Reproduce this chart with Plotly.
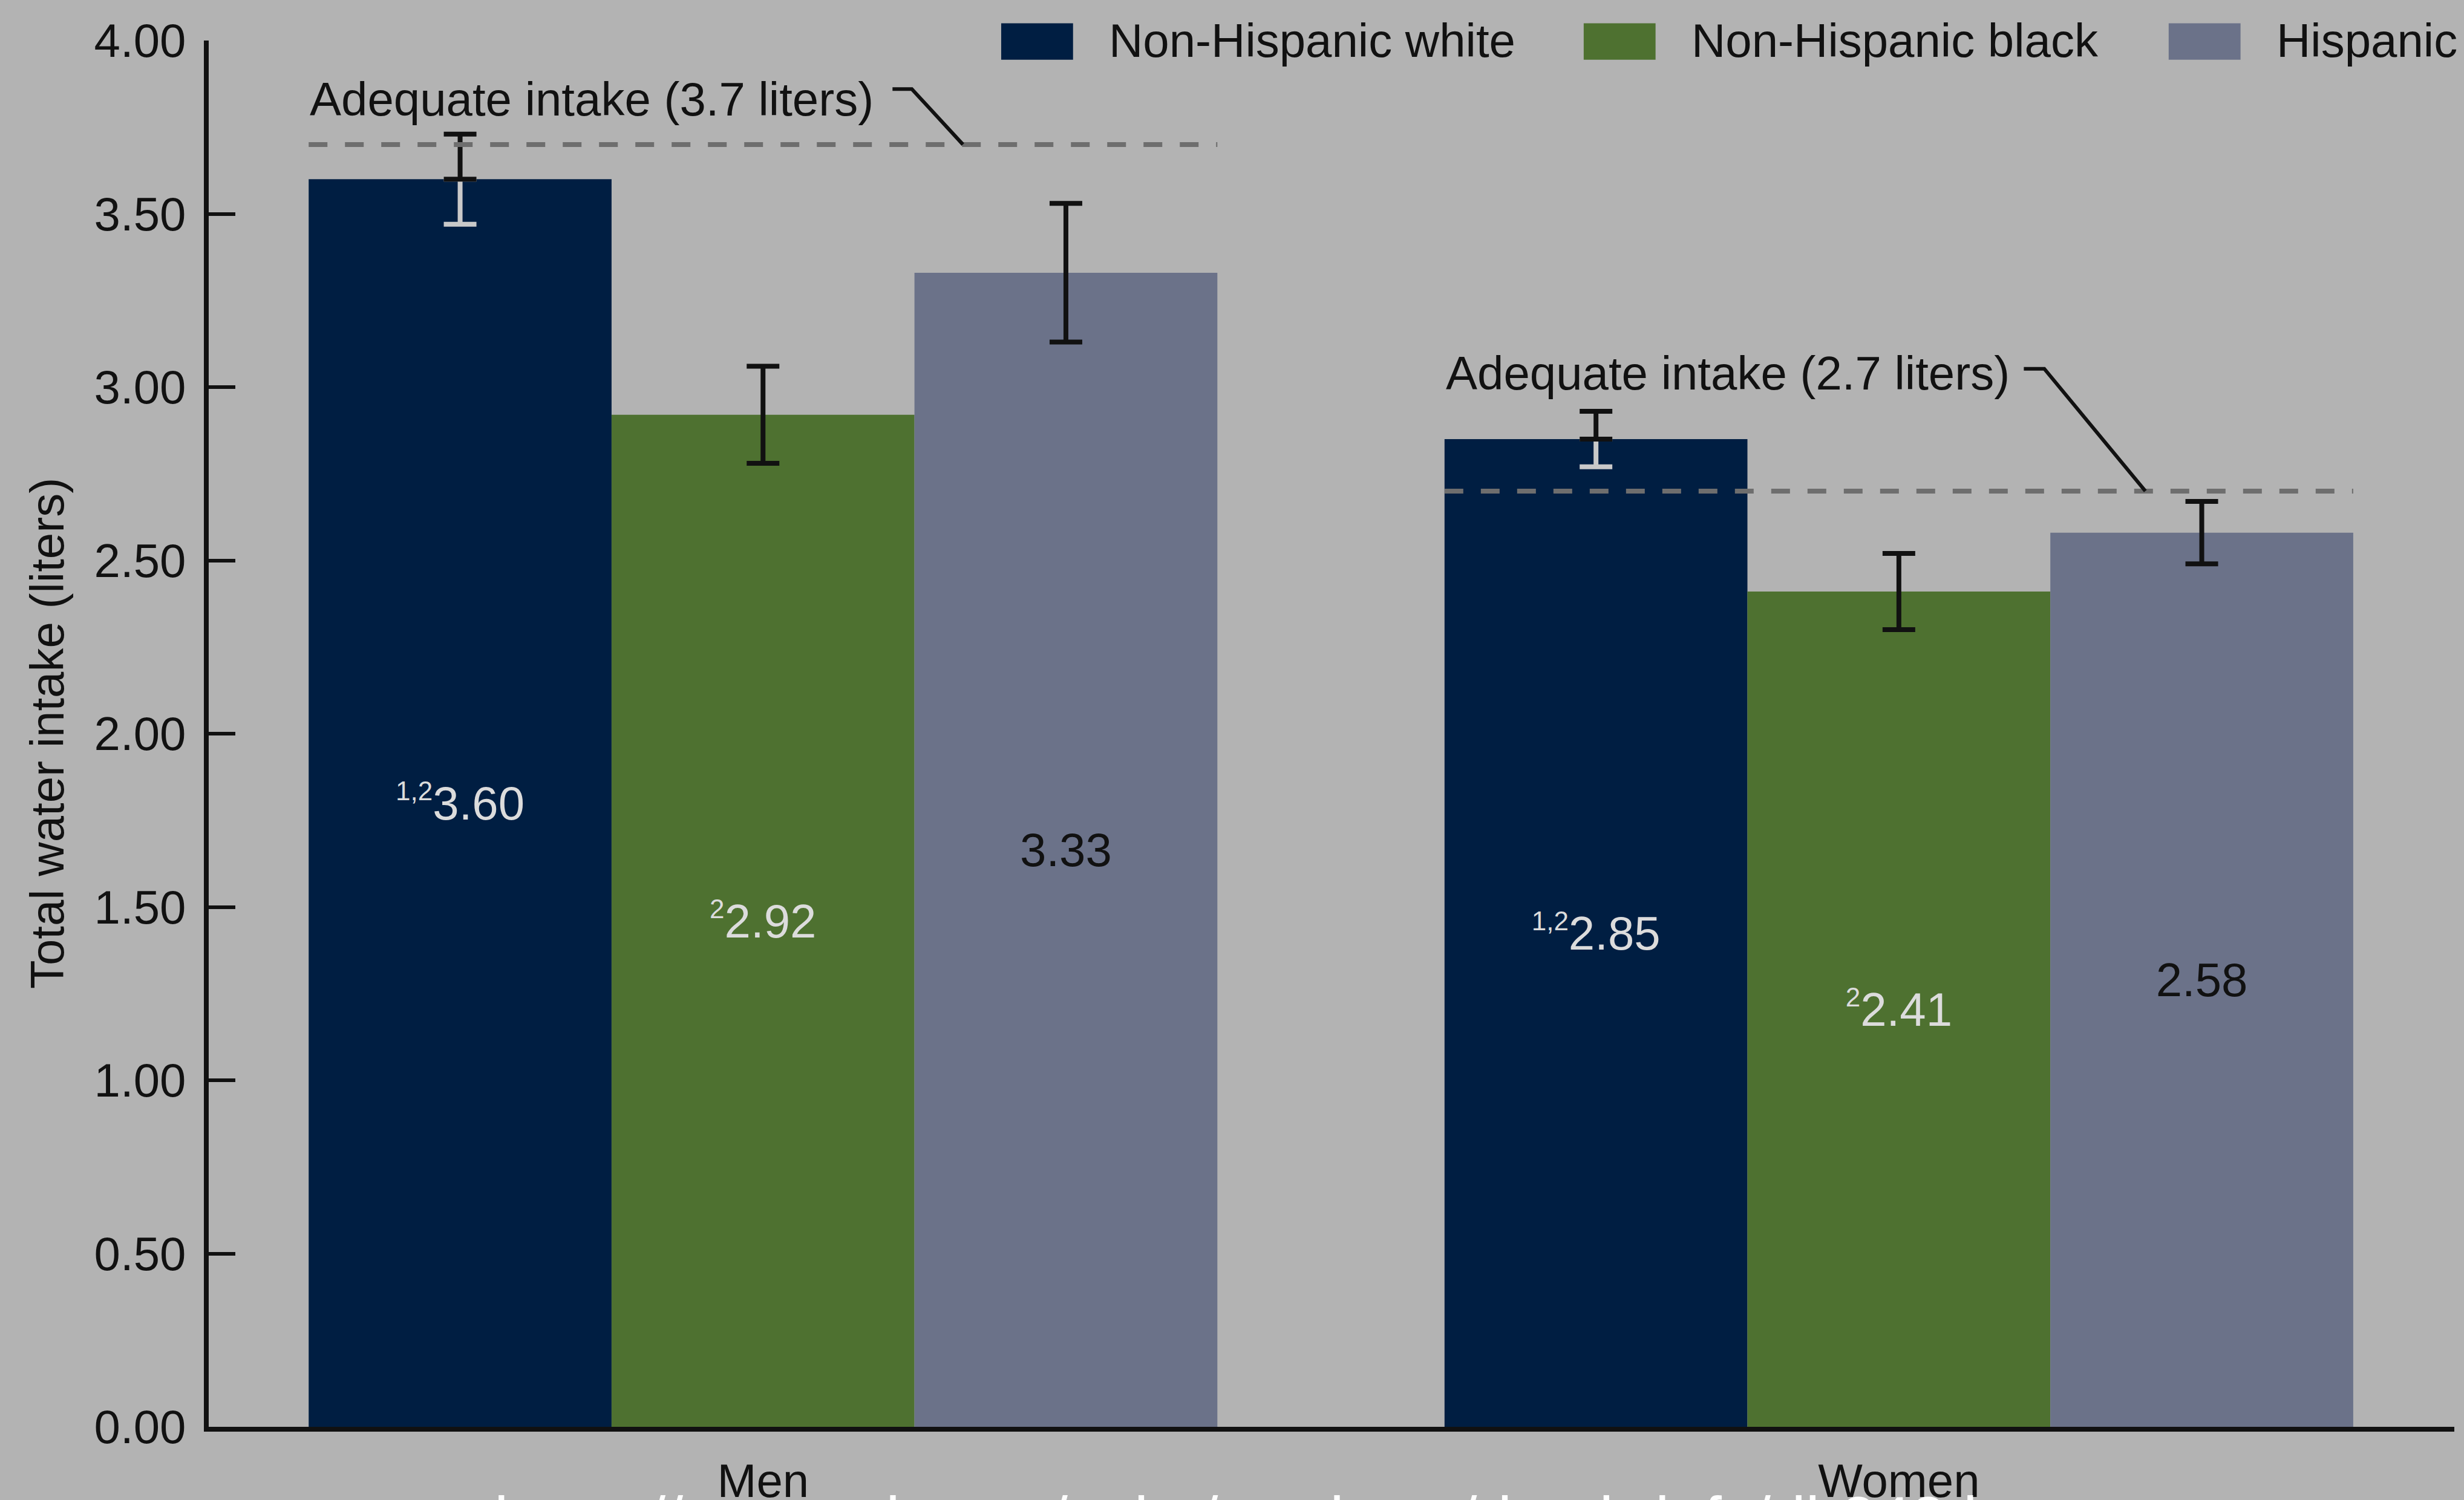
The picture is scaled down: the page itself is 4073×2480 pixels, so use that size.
import plotly.graph_objects as go

# ---------------- data ----------------
categories = ["Men", "Women"]
series_names = ["Non-Hispanic white", "Non-Hispanic black", "Hispanic"]
white_values = [3.60, 2.85]
black_values = [2.92, 2.41]
hispanic_values = [3.33, 2.58]
white_errors = [0.13, 0.08]
black_errors = [0.14, 0.11]
hispanic_errors = [0.20, 0.09]
white_notes = ["1,2", "1,2"]
black_notes = ["2", "2"]
hispanic_notes = ["", ""]
adequate_intake = [3.7, 2.7]
adequate_labels = ["Adequate intake (3.7 liters)", "Adequate intake (2.7 liters)"]
y_ticks = [0.0, 0.5, 1.0, 1.5, 2.0, 2.5, 3.0, 3.5, 4.0]
y_title = "Total water intake (liters)"
source_url = "https://www.cdc.gov/nchs/products/databriefs/db242.htm"

# ---------------- styles ----------------
FONT = "Liberation Sans, Arial, sans-serif"
BG = "#b3b3b3"
series_colors = ["#001e42", "#4e7130", "#6b7289"]
label_colors = ["#dcdcdc", "#dcdcdc", "#111111"]
FS = 78

values = [white_values, black_values, hispanic_values]
errors = [white_errors, black_errors, hispanic_errors]
notes = [white_notes, black_notes, hispanic_notes]

x = list(range(len(categories)))
group_w = 0.8
bar_w = group_w / len(series_names)

fig = go.Figure()


def fmt(v, n):
    if n:
        return f"<sup><span style='font-size:44px'>{n}</span></sup>{v:.2f}"
    return f"{v:.2f}"


for i, name in enumerate(series_names):
    fig.add_trace(go.Bar(
        x=x, y=values[i], name=name,
        offset=-group_w / 2 + i * bar_w, width=bar_w,
        marker=dict(color=series_colors[i], line=dict(width=0)),
        text=[fmt(v, n) for v, n in zip(values[i], notes[i])],
        textposition="inside", insidetextanchor="middle",
        textangle=0, constraintext="none",
        textfont=dict(family=FONT, size=FS, color=label_colors[i]),
        showlegend=False,
    ))

# light error bar portion (inside the dark bars of first series)
fig.add_trace(go.Bar(
    x=x, y=white_values, offset=-group_w / 2, width=bar_w,
    marker=dict(color="rgba(0,0,0,0)", line=dict(width=0)),
    error_y=dict(type="data", symmetric=False, array=[0] * len(x),
                 arrayminus=white_errors, color="#c9c9c9", thickness=8, width=27),
    showlegend=False, hoverinfo="skip",
))
# dark error bar portions
for i in range(len(series_names)):
    if i == 0:
        ey = dict(type="data", symmetric=False, array=errors[i],
                  arrayminus=[0] * len(x), color="#111111", thickness=8, width=27)
    else:
        ey = dict(type="data", array=errors[i], color="#111111", thickness=8, width=27)
    fig.add_trace(go.Bar(
        x=x, y=values[i], offset=-group_w / 2 + i * bar_w, width=bar_w,
        marker=dict(color="rgba(0,0,0,0)", line=dict(width=0)),
        error_y=ey, showlegend=False, hoverinfo="skip",
    ))

shapes = []
annotations = []

# adequate intake dashed reference lines + labels + leaders
label_y = [3.83, 3.04]
leader_pts = [(0.114, 0.131, 3.86, 0.176), (0.110, 0.128, 3.053, 0.217)]
for j, ai in enumerate(adequate_intake):
    shapes.append(dict(type="line", xref="x", yref="y",
                       x0=x[j] - group_w / 2, x1=x[j] + group_w / 2, y0=ai, y1=ai,
                       line=dict(color="#6e6e6e", width=8, dash="31px,29px"), layer="above"))
    annotations.append(dict(xref="x", yref="y", x=x[j] - group_w / 2, y=label_y[j],
                            xanchor="left", yanchor="middle", showarrow=False,
                            text=adequate_labels[j],
                            font=dict(family=FONT, size=FS, color="#111111")))
    a, b, yy, c = leader_pts[j]
    shapes.append(dict(type="path", xref="x", yref="y",
                       path=f"M {x[j]+a},{yy} L {x[j]+b},{yy} L {x[j]+c},{ai}",
                       line=dict(color="#111111", width=6), layer="above"))

# custom legend
sw_x = [0.3529, 0.6123, 0.8728]
for i, name in enumerate(series_names):
    shapes.append(dict(type="rect", xref="paper", yref="paper",
                       x0=sw_x[i], x1=sw_x[i] + 0.0320, y0=0.9862, y1=1.0124,
                       fillcolor=series_colors[i], line=dict(width=0)))
    annotations.append(dict(xref="paper", yref="paper", x=sw_x[i] + 0.0474, y=1.0000,
                            xanchor="left", yanchor="middle", showarrow=False,
                            text=name, font=dict(family=FONT, size=FS, color="#111111")))

# y axis title
annotations.append(dict(xref="paper", yref="paper", x=-0.0719, y=0.5,
                        xanchor="center", yanchor="middle", showarrow=False,
                        textangle=-90, text=y_title,
                        font=dict(family=FONT, size=FS, color="#111111")))

# source URL at the bottom, largely cut off by the page edge (as in the reference)
annotations.append(dict(xref="paper", yref="paper", x=(815 - 345) / 3712, y=-0.040,
                        xanchor="left", yanchor="top", showarrow=False,
                        text=source_url,
                        font=dict(family=FONT, size=104, color="#ffffff")))

fig.update_layout(
    width=4073, height=2480,
    margin=dict(l=345, r=16, t=67, b=121, pad=0, autoexpand=False),
    paper_bgcolor=BG, plot_bgcolor=BG,
    barmode="overlay",
    font=dict(family=FONT, size=FS, color="#111111"),
    shapes=shapes, annotations=annotations,
    showlegend=False,
    xaxis=dict(range=[-0.488, 1.489], tickvals=x, ticktext=categories,
               showline=True, linecolor="#111111", linewidth=8,
               ticks="", showgrid=False, zeroline=False, automargin=False,
               ticklabelstandoff=14,
               tickfont=dict(family=FONT, size=FS, color="#111111")),
    yaxis=dict(range=[0, 4], tickvals=y_ticks, tickformat=".2f",
               showline=True, linecolor="#111111", linewidth=8,
               ticks="inside", ticklen=44, tickwidth=6, tickcolor="#111111",
               showgrid=False, zeroline=False, automargin=False,
               ticklabelstandoff=14,
               tickfont=dict(family=FONT, size=FS, color="#111111")),
)

fig.write_html("out.html")
